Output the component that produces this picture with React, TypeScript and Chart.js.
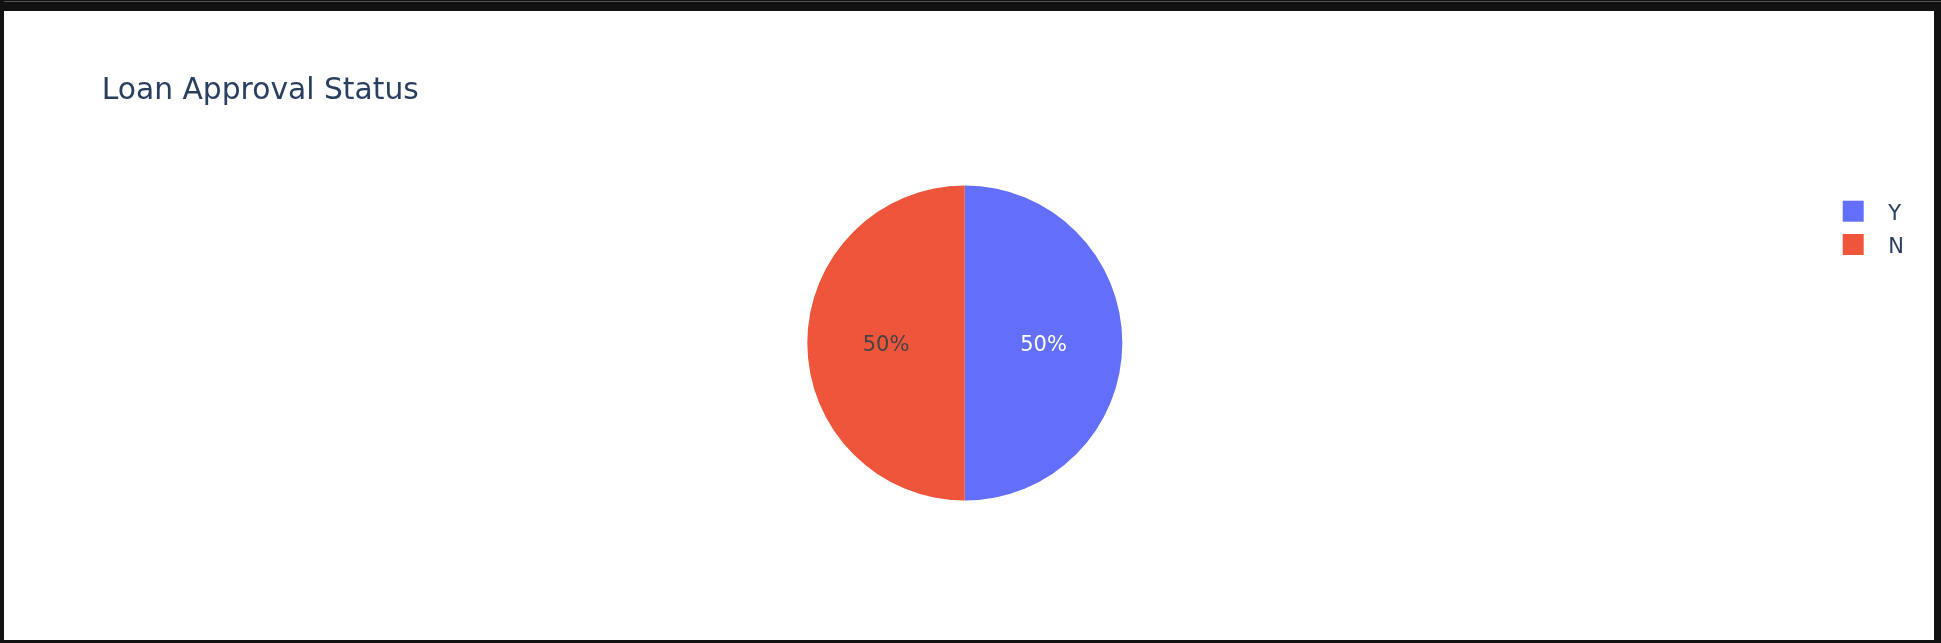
import React, { useEffect, useRef } from "react";
import { Chart, registerables } from "chart.js";

Chart.register(...registerables);

const chartTitle = "Loan Approval Status";
const categories = ["Y", "N"];
const values = [50, 50];
const sliceColors = ["#636efa", "#EF553B"];
const insideTextColors = ["#ffffff", "#444444"];

const FONT = "'DejaVu Sans', Verdana, sans-serif";
const TEXT_COLOR = "#2a3f5f";

const overlayPlugin = {
  id: "overlay",
  afterDraw(chart: any) {
    const ctx = chart.ctx as CanvasRenderingContext2D;
    const meta = chart.getDatasetMeta(0);
    const total = values.reduce((a, b) => a + b, 0);
    ctx.save();
    // slice labels
    ctx.font = `21px ${FONT}`;
    ctx.textAlign = "center";
    ctx.textBaseline = "alphabetic";
    meta.data.forEach((arc: any, i: number) => {
      const p = arc.tooltipPosition(true);
      const pct = Math.round((values[i] / total) * 100) + "%";
      ctx.fillStyle = insideTextColors[i];
      ctx.fillText(pct, p.x, p.y + 7.7);
    });
    // title
    ctx.textAlign = "left";
    ctx.font = `29.75px ${FONT}`;
    ctx.fillStyle = TEXT_COLOR;
    ctx.fillText(chartTitle, 97.7, 88);
    // legend
    ctx.font = `21px ${FONT}`;
    categories.forEach((c, i) => {
      const y0 = 189.7 + i * 33.3;
      ctx.fillStyle = sliceColors[i];
      ctx.fillRect(1838.7, y0, 21, 21);
      ctx.fillStyle = TEXT_COLOR;
      ctx.fillText(c, 1884.3, y0 + 19.3);
    });
    ctx.restore();
  },
};

export default function App() {
  const canvasRef = useRef<HTMLCanvasElement | null>(null);

  useEffect(() => {
    if (!canvasRef.current) return;
    const chart = new Chart(canvasRef.current, {
      type: "pie",
      data: {
        labels: categories,
        datasets: [
          {
            data: values,
            backgroundColor: sliceColors,
            borderWidth: 0,
          },
        ],
      },
      options: {
        responsive: false,
        animation: false,
        devicePixelRatio: 1,
        layout: {
          padding: { left: 803.3, right: 811.7, top: 174.5, bottom: 139.5 },
        },
        plugins: {
          legend: { display: false },
          title: { display: false },
          tooltip: { enabled: false },
        },
      },
      plugins: [overlayPlugin],
    });
    return () => chart.destroy();
  }, []);

  return (
    <div
      style={{
        position: "fixed",
        left: 0,
        top: 0,
        width: 1941,
        height: 643,
        background: "#111111",
        overflow: "hidden",
      }}
    >
      <div
        style={{
          position: "absolute",
          left: 4,
          top: 1,
          width: 1937,
          height: 1,
          background: "#555555",
        }}
      />
      <div
        style={{
          position: "absolute",
          left: 4,
          top: 11,
          width: 1930,
          height: 629,
          background: "#ffffff",
        }}
      >
        <canvas ref={canvasRef} width={1930} height={629} style={{ display: "block" }} />
      </div>
    </div>
  );
}
